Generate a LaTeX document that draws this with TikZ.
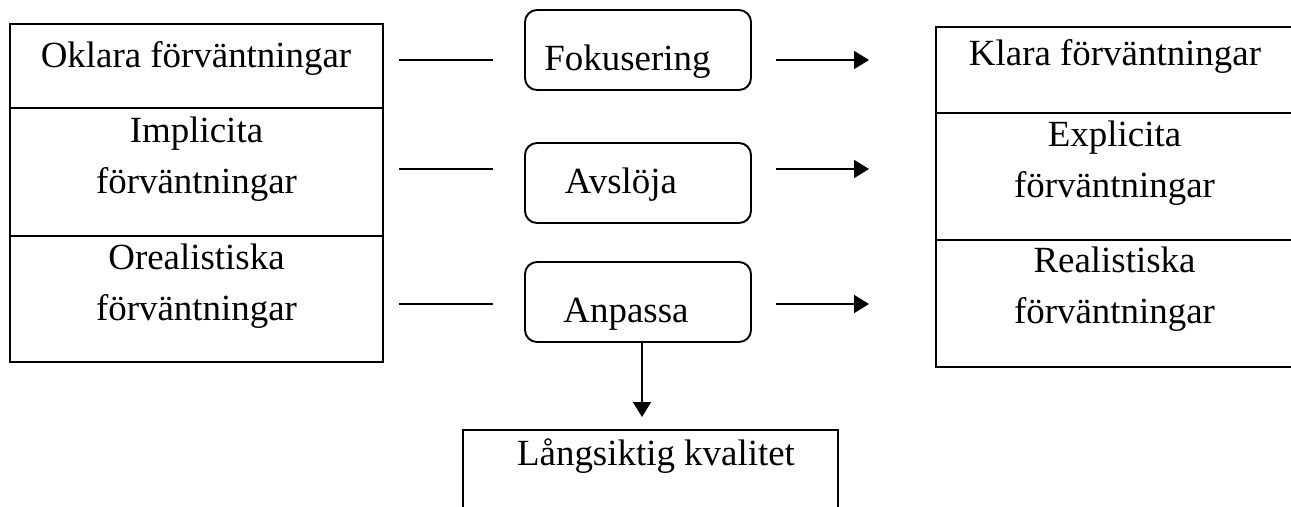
\documentclass[tikz,border=0pt]{standalone}
\usepackage{fontspec}
\setmainfont{Liberation Serif}
\usetikzlibrary{arrows.meta}

\begin{document}
\begin{tikzpicture}[
    line width=1.1pt,
    box/.style={rectangle, draw, inner sep=0pt},
    rbox/.style={rectangle, draw, rounded corners=0.24cm, inner sep=0pt, minimum height=1.6cm, minimum width=4.52cm},
    txt/.style={anchor=base, align=center, inner sep=0pt, font=\fontsize{21pt}{28.5pt}\selectfont},
    link/.style={line width=1.1pt},
    arrow/.style={line width=1.1pt, -{Triangle[length=0.3cm, width=0.36cm]}}
  ]
  \useasboundingbox (0, 0) rectangle (25.82, -10.12);
  \clip (0, 0) rectangle (25.82, -10.12);

  % left column
  \node (oklara) [box, minimum height=1.68cm, minimum width=7.46cm] at (3.93, -1.32) {};
  \node (implicita) [box, minimum height=2.56cm, minimum width=7.46cm] at (3.93, -3.44) {};
  \node (orealistiska) [box, minimum height=2.52cm, minimum width=7.46cm] at (3.93, -5.98) {};
  \node (oklaratext) [txt] at (3.92, -1.34) {Oklara förväntningar};
  \node (implicitatext) [txt] at (3.93, -3.86) {Implicita\\förväntningar};
  \node (orealistiskatext) [txt] at (3.93, -6.40) {Orealistiska\\förväntningar};

  % middle column
  \node (fokus) [rbox] at (12.76, -1.00) {};
  \node (avsloja) [rbox] at (12.76, -3.66) {};
  \node (anpassa) [rbox] at (12.76, -6.04) {};
  \node (fokustext) [txt] at (12.55, -1.40) {Fokusering};
  \node (avslojatext) [txt] at (12.42, -3.86) {Avslöja};
  \node (anpassatext) [txt] at (12.52, -6.44) {Anpassa};

  % right column
  \node (klara) [box, minimum height=1.72cm, minimum width=7.46cm] at (22.45, -1.40) {};
  \node (explicita) [box, minimum height=2.54cm, minimum width=7.46cm] at (22.45, -3.53) {};
  \node (realistiska) [box, minimum height=2.54cm, minimum width=7.46cm] at (22.45, -6.07) {};
  \node (klaratext) [txt] at (22.30, -1.30) {Klara förväntningar};
  \node (explicitatext) [txt] at (22.29, -3.94) {Explicita\\förväntningar};
  \node (realistiskatext) [txt] at (22.29, -6.46) {Realistiska\\förväntningar};

  % bottom
  \node (kvalitet) [box, minimum height=2.52cm, minimum width=7.5cm] at (13.01, -9.86) {};
  \node (kvalitettext) [txt] at (13.12, -9.30) {Långsiktig kvalitet};

  % connectors
  \coordinate (in1a) at (7.98, -1.20);
  \coordinate (in1b) at (9.86, -1.20);
  \coordinate (in2a) at (7.98, -3.38);
  \coordinate (in2b) at (9.86, -3.38);
  \coordinate (in3a) at (7.98, -6.08);
  \coordinate (in3b) at (9.86, -6.08);
  \coordinate (out1a) at (15.52, -1.20);
  \coordinate (out1b) at (17.38, -1.20);
  \coordinate (out2a) at (15.52, -3.38);
  \coordinate (out2b) at (17.38, -3.38);
  \coordinate (out3a) at (15.52, -6.08);
  \coordinate (out3b) at (17.38, -6.08);
  \coordinate (downtip) at (12.84, -8.34);

  \draw [link] (in1a) -- (in1b);
  \draw [link] (in2a) -- (in2b);
  \draw [link] (in3a) -- (in3b);
  \draw [arrow] (out1a) -- (out1b);
  \draw [arrow] (out2a) -- (out2b);
  \draw [arrow] (out3a) -- (out3b);
  \draw [arrow] (anpassa.south -| downtip) -- (downtip);
\end{tikzpicture}
\end{document}
